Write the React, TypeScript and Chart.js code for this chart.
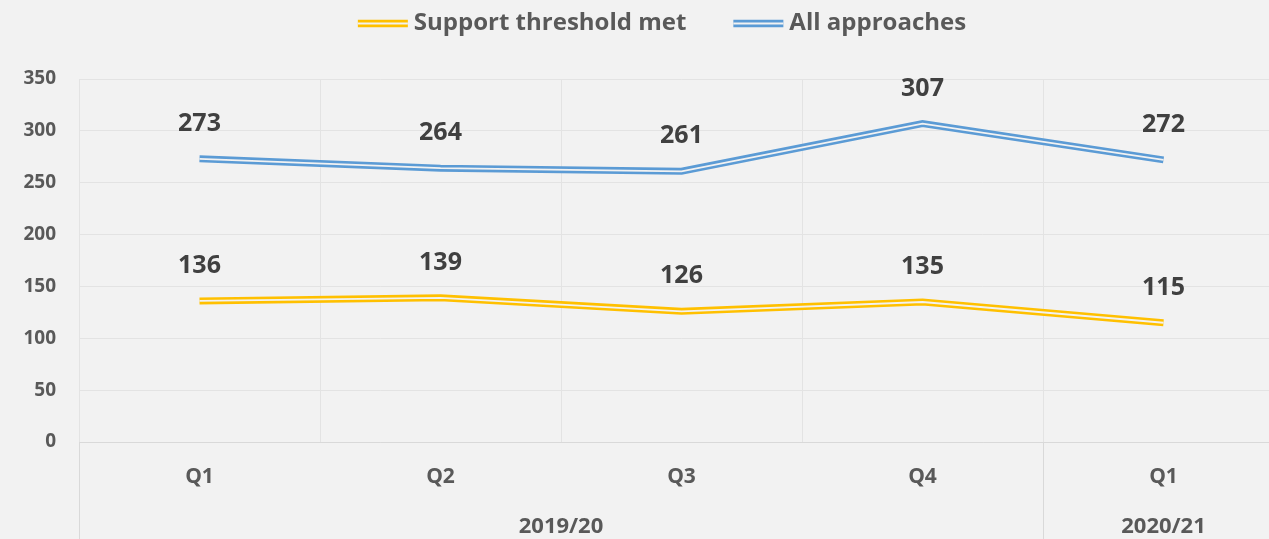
import { useEffect, useRef } from 'react';
import { Chart, registerables } from 'chart.js';

Chart.register(...registerables);

const categories = ['Q1', 'Q2', 'Q3', 'Q4', 'Q1'];
const groupLabels = ['2019/20', '2020/21'];
const groupSizes = [4, 1];
const supportThresholdMet = [136, 139, 126, 135, 115];
const allApproaches = [273, 264, 261, 307, 272];
const seriesNames = ['Support threshold met', 'All approaches'];
const seriesColors = ['#FFC000', '#5B9BD5'];
const yMin = 0;
const yMax = 350;
const yStep = 50;

const BG = '#f2f2f2';
const FONT = '"Open Sans", Lato, sans-serif';
const TEXT = '#595959';
const LABEL = '#404040';
const GRID = '#e3e3e3';
const AXIS = '#d9d9d9';

const customPlugin = {
  id: 'customDraw',
  beforeDraw(chart: any) {
    const { ctx, width, height } = chart;
    ctx.save();
    ctx.fillStyle = BG;
    ctx.fillRect(0, 0, width, height);
    ctx.restore();
  },
  afterDatasetsDraw(chart: any) {
    const { ctx } = chart;
    ctx.save();
    ctx.font = `bold 25px ${FONT}`;
    ctx.fillStyle = LABEL;
    ctx.textAlign = 'center';
    ctx.textBaseline = 'middle';
    [0, 1].forEach((di) => {
      const meta = chart.getDatasetMeta(di);
      const data = chart.data.datasets[di].data as number[];
      meta.data.forEach((pt: any, i: number) => {
        ctx.fillText(String(data[i]), pt.x, pt.y - 35);
      });
    });
    ctx.restore();
  },
  afterDraw(chart: any) {
    const { ctx, chartArea, scales } = chart;
    const x = scales.x;
    const bottom = chart.height;
    const catW = (chartArea.right - chartArea.left) / categories.length;
    ctx.save();
    ctx.strokeStyle = AXIS;
    ctx.lineWidth = 1;
    let start = 0;
    ctx.font = `bold 22px ${FONT}`;
    ctx.fillStyle = TEXT;
    ctx.textAlign = 'center';
    ctx.textBaseline = 'middle';
    groupSizes.forEach((size, gi) => {
      const left = x.getPixelForValue(start) - catW / 2;
      const right = x.getPixelForValue(start + size - 1) + catW / 2;
      const lx = Math.round(left) + 0.5;
      ctx.beginPath();
      ctx.moveTo(lx, chartArea.bottom);
      ctx.lineTo(lx, bottom);
      ctx.stroke();
      ctx.fillText(groupLabels[gi], (left + right) / 2, 527);
      start += size;
    });
    // legend
    ctx.font = `bold 24px ${FONT}`;
    const lineW = 50;
    const gapText = 6;
    const spacing = 47;
    const widths = seriesNames.map((n) => ctx.measureText(n).width);
    const total = widths.reduce((a, w) => a + lineW + gapText + w, 0) + spacing * (seriesNames.length - 1);
    let lx = 662 - total / 2;
    const cy = 23.5;
    ctx.textAlign = 'left';
    ctx.textBaseline = 'middle';
    seriesNames.forEach((name, i) => {
      ctx.fillStyle = seriesColors[i];
      ctx.fillRect(lx, cy - 3.75, lineW, 7.5);
      ctx.fillStyle = BG;
      ctx.fillRect(lx, cy - 1, lineW, 2);
      ctx.fillStyle = TEXT;
      ctx.fillText(name, lx + lineW + gapText, cy);
      lx += lineW + gapText + widths[i] + spacing;
    });
    ctx.restore();
  },
};

export default function App() {
  const ref = useRef<HTMLCanvasElement | null>(null);

  useEffect(() => {
    document.body.style.margin = '0';
    document.body.style.background = BG;
    document.body.style.overflow = 'hidden';
    const canvas = ref.current;
    if (!canvas) return;
    const seriesData = [supportThresholdMet, allApproaches];
    const outer = seriesData.map((d, i) => ({
      label: seriesNames[i],
      data: d,
      borderColor: seriesColors[i],
      backgroundColor: seriesColors[i],
      borderWidth: 7,
      borderJoinStyle: 'miter' as const,
      borderCapStyle: 'butt' as const,
      pointRadius: 0,
      pointHoverRadius: 0,
      tension: 0,
      fill: false,
      order: 2,
    }));
    const inner = seriesData.map((d, i) => ({
      label: seriesNames[i] + ' inner',
      data: d,
      borderColor: BG,
      backgroundColor: BG,
      borderWidth: 1.8,
      borderJoinStyle: 'miter' as const,
      borderCapStyle: 'butt' as const,
      pointRadius: 0,
      pointHoverRadius: 0,
      tension: 0,
      fill: false,
      order: 1,
    }));
    const chart = new Chart(canvas, {
      type: 'line',
      data: { labels: categories, datasets: [...outer, ...inner] },
      plugins: [customPlugin],
      options: {
        animation: false,
        responsive: false,
        maintainAspectRatio: false,
        layout: { padding: { top: 79, left: 0, right: 0, bottom: 0 } },
        plugins: { legend: { display: false }, tooltip: { enabled: false } },
        scales: {
          x: {
            type: 'category',
            offset: true,
            grid: { display: true, offset: true, color: GRID, drawTicks: false },
            border: { display: true, color: AXIS },
            ticks: {
              padding: 22,
              color: TEXT,
              font: { family: FONT, size: 21, weight: 'bold' },
              maxRotation: 0,
              autoSkip: false,
            },
            afterFit: (s: any) => {
              s.height = 97;
            },
          },
          y: {
            min: yMin,
            max: yMax,
            grid: { color: GRID, drawTicks: false },
            border: { display: false },
            ticks: {
              stepSize: yStep,
              padding: 23,
              color: TEXT,
              font: { family: FONT, size: 19, weight: 'bold' },
            },
            afterFit: (s: any) => {
              s.width = 79;
            },
          },
        },
      },
    });
    return () => chart.destroy();
  }, []);

  return (
    <canvas
      ref={ref}
      width={1284}
      height={539}
      style={{ position: 'fixed', left: 0, top: 0, width: 1284, height: 539, display: 'block' }}
    />
  );
}
